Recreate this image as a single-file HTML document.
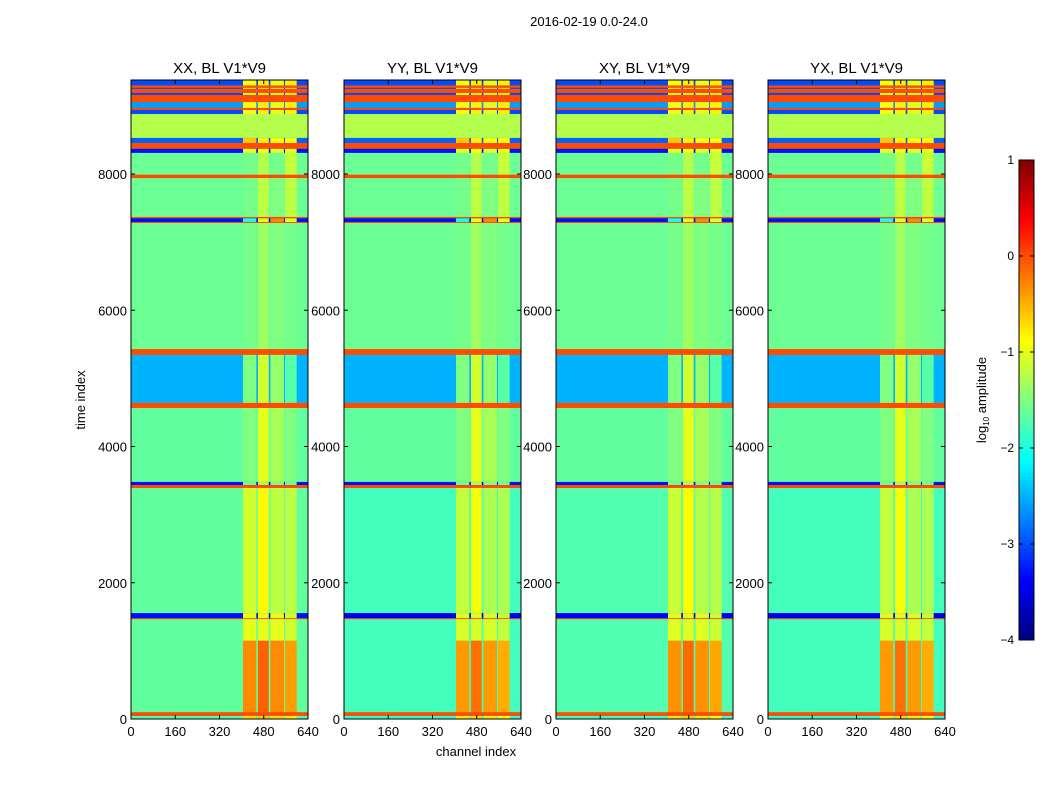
<!DOCTYPE html>
<html><head><meta charset="utf-8">
<style>
body{margin:0;background:#fff;}
svg{display:block;font-family:"Liberation Sans",sans-serif;}
</style></head>
<body>
<svg id="fig" width="1050" height="800" viewBox="0 0 1050 800">
<rect width="1050" height="800" fill="#fff"/>
<text x="589" y="26" font-size="13" text-anchor="middle">2016-02-19 0.0-24.0</text>
<text x="476" y="756" font-size="13" text-anchor="middle">channel index</text>
<text transform="translate(85,400) rotate(-90)" font-size="13" text-anchor="middle">time index</text>
<g id="panels"></g>
<g id="cbar"></g>
</svg>
<script>
// ---- data ----
const panelTitles = ["XX, BL V1*V9","YY, BL V1*V9","XY, BL V1*V9","YX, BL V1*V9"];
const xTicks = [0,160,320,480,640];
const yTicks = [0,2000,4000,6000,8000];
const cbTicks = [1,0,-1,-2,-3,-4];
const bandStart = [9300,9265,9250,9190,9160,9055,8970,8940,8880,8530,8455,8370,8310,7990,7940,7370,7350,7295,7280,5430,5345,4640,4565,3480,3435,3390,1555,1480,1465,1150,100,45,0];
const bandEnd   = [9380,9300,9265,9250,9190,9160,9055,8970,8940,8880,8530,8455,8370,8310,7990,7940,7370,7350,7295,7280,5430,5345,4640,4565,3480,3435,3390,1555,1480,1465,1150,100,45];
const bandBase  = [-3.0,0.0,-3.0,0.0,-3.0,0.0,-2.6,0.0,-3.0,-1.25,-2.9,0.0,-3.3,-1.6,0.0,-1.6,0.0,-3.3,0.0,-1.6,0.0,-2.5,0.0,-1.65,-3.3,0.0,-1.65,-3.3,0.0,-1.65,-1.65,0.0,-1.75];
const colStart = [405,459,504,557];
const colEnd   = [453,498,553,599];
const col1 = [-0.9,0,-0.9,0,-0.9,0,-0.9,0,-0.9,-1.25,-0.6,0,-1.0,-1.55,0,-1.55,0,-2.0,0,-1.55,0,-1.5,0,-1.5,-1.6,0,-1.1,-1.0,0,-1.0,-0.3,0,-0.7];
const col2 = [-0.8,0,-0.8,0,-0.8,0,-0.8,0,-0.8,-1.25,-0.8,0,-0.9,-1.25,0,-1.2,0,-1.0,0,-1.35,0,-1.1,0,-1.0,-1.3,0,-0.85,-1.0,0,-1.0,-0.1,0,-0.6];
const col3 = [-1.0,0,-1.0,0,-1.0,0,-1.0,0,-1.0,-1.25,-0.9,0,-1.0,-1.55,0,-1.5,0,-0.3,0,-1.5,0,-1.4,0,-1.3,-1.5,0,-1.2,-1.0,0,-1.0,-0.3,0,-0.7];
const col4 = [-0.8,0,-0.8,0,-0.8,0,-0.8,0,-0.8,-1.25,-0.9,0,-1.0,-1.15,0,-1.2,0,-1.0,0,-1.55,0,-1.7,0,-1.5,-1.6,0,-1.2,-1.1,0,-1.1,-0.4,0,-0.8];
const panelLowOffset = [0,-0.15,-0.08,-0.15];
// ---- layout ----
const panelX = [131,344,556,768], PW = 177, PT = 80, PB = 719;
const tMax = 9380, chMax = 640, vMin = -4, vMax = 1;
const NS = "http://www.w3.org/2000/svg";
function xs(px, ch){ return px + ch / chMax * PW; }
function ys(t){ return PB - t / tMax * (PB - PT); }
function clip(v){ return Math.max(0, Math.min(1, v)); }
function jet(v){
  const x = clip((v - vMin) / (vMax - vMin));
  const r = clip(1.5 - Math.abs(4*x - 3)), g = clip(1.5 - Math.abs(4*x - 2)), b = clip(1.5 - Math.abs(4*x - 1));
  return `rgb(${Math.round(r*255)},${Math.round(g*255)},${Math.round(b*255)})`;
}
function mk(tag, attrs, parent){
  const e = document.createElementNS(NS, tag);
  for (const k in attrs) e.setAttribute(k, attrs[k]);
  parent.appendChild(e); return e;
}
const panels = document.getElementById('panels');
const cols = [col1, col2, col3, col4];
panelX.forEach((px, p) => {
  const g = mk('g', {}, panels);
  
  
  bandBase.forEach((b, i) => {
    const off = (bandStart[i] < 3400 && b < -1) ? panelLowOffset[p] : 0;
    const y0 = ys(bandEnd[i]), y1 = ys(bandStart[i]);
    const r = mk('rect', {x: px, y: y0, width: PW, height: y1 - y0 + 0.3, fill: jet(b + off)}, g);
    
    
    if (b !== 0 && b !== -1.25) {
      cols.forEach((c, j) => {
        const cr = mk('rect', {x: xs(px, colStart[j]), y: y0, width: xs(px, colEnd[j]) - xs(px, colStart[j]), height: y1 - y0 + 0.3, fill: jet(c[i] + off*0.5)}, g);
        
        
      });
    }
  });
  mk('rect', {x: px, y: PT, width: PW, height: PB - PT, fill: 'none', stroke: '#000', 'stroke-width': 1}, g);
  const t = mk('text', {x: px + PW/2, y: PT - 7, 'font-size': 15, 'text-anchor': 'middle'}, g);
  t.textContent = panelTitles[p];
  
  
  xTicks.forEach(v => {
    const x = xs(px, v);
    mk('line', {x1: x, x2: x, y1: PB, y2: PB - 4, stroke: '#000'}, g);
    mk('line', {x1: x, x2: x, y1: PT, y2: PT + 4, stroke: '#000'}, g);
    const tl = mk('text', {x: x, y: PB + 17, 'font-size': 13, 'text-anchor': 'middle'}, g);
    tl.textContent = v;
    
    
  });
  yTicks.forEach(v => {
    const y = ys(v);
    mk('line', {x1: px, x2: px + 4, y1: y, y2: y, stroke: '#000'}, g);
    mk('line', {x1: px + PW, x2: px + PW - 4, y1: y, y2: y, stroke: '#000'}, g);
    const tl = mk('text', {x: px - 4, y: y + 5, 'font-size': 13, 'text-anchor': 'end'}, g);
    tl.textContent = v;
    
    
  });
});
// colorbar
const cb = document.getElementById('cbar');


const CX = 1019, CW = 15, CT = 160, CB = 640;
const cbS = v => CB - (v - vMin) / (vMax - vMin) * (CB - CT);
for (let k = 0; k < 120; k++) {
  const v0 = vMin + k * (vMax - vMin) / 120, v1 = vMin + (k + 1) * (vMax - vMin) / 120;
  mk('rect', {x: CX, y: cbS(v1), width: CW, height: cbS(v0) - cbS(v1) + 0.5, fill: jet((v0 + v1) / 2)}, cb);
}
mk('rect', {x: CX, y: CT, width: CW, height: CB - CT, fill: 'none', stroke: '#000'}, cb);
cbTicks.forEach(v => {
  const y = cbS(v);
  mk('line', {x1: CX, x2: CX + 4, y1: y, y2: y, stroke: '#000'}, cb);
  mk('line', {x1: CX + CW, x2: CX + CW - 4, y1: y, y2: y, stroke: '#000'}, cb);
  const tl = mk('text', {x: CX - 5, y: y + 4, 'font-size': 12, 'text-anchor': 'end'}, cb);
  tl.textContent = v < 0 ? '\u2212' + (-v) : v;
  
  
});
const lab = mk('text', {transform: 'translate(986,400) rotate(-90)', 'font-size': 13, 'text-anchor': 'middle'}, cb);
lab.innerHTML = 'log<tspan font-size="8" dy="3">10</tspan><tspan dy="-3"> amplitude</tspan>';


</script>
</body></html>
